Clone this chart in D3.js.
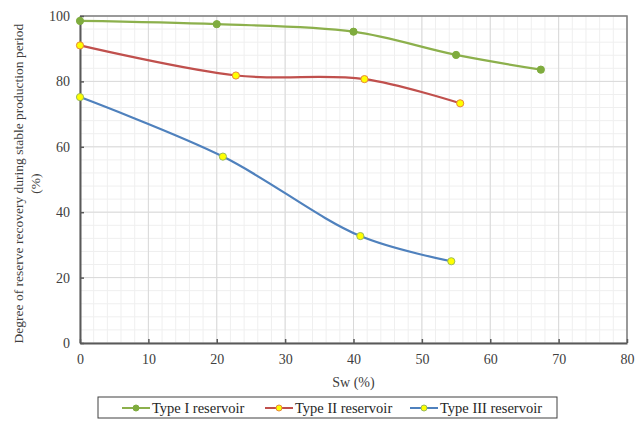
<script src="https://d3js.org/d3.v7.min.js"></script>
<style>
  body { margin: 0; background: #fff; }
  text { font-family: "Liberation Serif", "Times New Roman", serif; }
</style>
<div id="chart"></div>
<script>
  // data
  var seriesNames = ["Type I reservoir", "Type II reservoir", "Type III reservoir"];
  var type1X = [0, 20, 40, 55, 67.4];
  var type1Y = [98.5, 97.5, 95.2, 88.1, 83.6];
  var type2X = [0, 22.8, 41.6, 55.6];
  var type2Y = [91.0, 81.8, 80.7, 73.3];
  var type3X = [0, 20.9, 41.0, 54.3];
  var type3Y = [75.2, 57.0, 32.7, 25.0];
  var xTicks = [0, 10, 20, 30, 40, 50, 60, 70, 80];
  var yTicks = [0, 20, 40, 60, 80, 100];

  var width = 643, height = 421;
  var plotLeft = 80, plotRight = 627, plotTop = 16, plotBottom = 343;

  var svg = d3.select("#chart").append("svg")
    .attr("width", width)
    .attr("height", height);

  var x = d3.scaleLinear().domain([0, 80]).range([plotLeft, plotRight]);
  var y = d3.scaleLinear().domain([0, 100]).range([plotBottom, plotTop]);

  // minor grid
  svg.append("g").selectAll("line")
    .data(d3.range(0, 81, 2))
    .join("line")
    .attr("x1", d => x(d)).attr("x2", d => x(d))
    .attr("y1", plotTop).attr("y2", plotBottom)
    .style("stroke", "#efefef").style("stroke-width", 1);
  svg.append("g").selectAll("line")
    .data(d3.range(0, 101, 4))
    .join("line")
    .attr("x1", plotLeft).attr("x2", plotRight)
    .attr("y1", d => y(d)).attr("y2", d => y(d))
    .style("stroke", "#efefef").style("stroke-width", 1);

  // major grid
  svg.append("g").selectAll("line")
    .data(xTicks)
    .join("line")
    .attr("x1", d => x(d)).attr("x2", d => x(d))
    .attr("y1", plotTop).attr("y2", plotBottom)
    .style("stroke", "#d9d9d9").style("stroke-width", 1);
  svg.append("g").selectAll("line")
    .data(yTicks)
    .join("line")
    .attr("x1", plotLeft).attr("x2", plotRight)
    .attr("y1", d => y(d)).attr("y2", d => y(d))
    .style("stroke", "#d9d9d9").style("stroke-width", 1);

  // plot border (top and right)
  svg.append("path")
    .attr("d", "M" + plotLeft + "," + plotTop + "H" + plotRight + "V" + plotBottom)
    .style("fill", "none").style("stroke", "#7f7f7f").style("stroke-width", 1.5);

  // axes
  var xAxis = d3.axisBottom(x).tickValues(xTicks).tickSizeInner(-4).tickSizeOuter(0).tickPadding(11);
  var yAxis = d3.axisLeft(y).tickValues(yTicks).tickSizeInner(-4).tickSizeOuter(0).tickPadding(10);

  var gx = svg.append("g").attr("transform", "translate(0," + plotBottom + ")").call(xAxis);
  var gy = svg.append("g").attr("transform", "translate(" + plotLeft + ",0)").call(yAxis);
  [gx, gy].forEach(function(g) {
    g.select(".domain").style("stroke", "#595959").style("stroke-width", 2);
    g.selectAll(".tick line").style("stroke", "#595959").style("stroke-width", 1.5);
    g.selectAll(".tick text")
      .style("font-family", "'Liberation Serif', serif")
      .style("font-size", "14px")
      .style("fill", "#404040");
  });

  // axis titles
  svg.append("text")
    .attr("x", x(40)).attr("y", 387)
    .attr("text-anchor", "middle")
    .style("font-size", "14px").style("fill", "#404040")
    .text("Sw (%)");

  var midY = (plotTop + plotBottom) / 2 + 4;
  svg.append("text")
    .attr("transform", "translate(23," + midY + ") rotate(-90)")
    .attr("text-anchor", "middle")
    .style("font-size", "13.5px").style("fill", "#404040")
    .text("Degree of reserve recovery during stable production period");
  svg.append("text")
    .attr("transform", "translate(40," + midY + ") rotate(-90)")
    .attr("text-anchor", "middle")
    .style("font-size", "13.5px").style("fill", "#404040")
    .text("(%)");

  // series
  var series = [
    { name: seriesNames[0], xs: type1X, ys: type1Y, line: "#8cb04c", fill: "#7fac3e", stroke: "#7fac3e" },
    { name: seriesNames[1], xs: type2X, ys: type2Y, line: "#c0504d", fill: "#ffff00", stroke: "#e9873a" },
    { name: seriesNames[2], xs: type3X, ys: type3Y, line: "#4f81bd", fill: "#ffff00", stroke: "#9bbb59" }
  ];

  var line = d3.line()
    .x(d => x(d[0]))
    .y(d => y(d[1]))
    .curve(d3.curveCatmullRom.alpha(0.5));

  series.forEach(function(s) {
    var pts = s.xs.map((v, i) => [v, s.ys[i]]);
    svg.append("path")
      .datum(pts)
      .attr("d", line)
      .style("fill", "none")
      .style("stroke", s.line)
      .style("stroke-width", 2.2);
    svg.append("g").selectAll("circle")
      .data(pts)
      .join("circle")
      .attr("cx", d => x(d[0]))
      .attr("cy", d => y(d[1]))
      .attr("r", 3.6)
      .style("fill", s.fill)
      .style("stroke", s.stroke)
      .style("stroke-width", 1);
  });

  // legend
  var legend = svg.append("g");
  legend.append("rect")
    .attr("x", 98).attr("y", 397)
    .attr("width", 459).attr("height", 21)
    .style("fill", "#fff").style("stroke", "#404040").style("stroke-width", 1);

  var legendX = [122, 265, 410];
  series.forEach(function(s, i) {
    var lx = legendX[i], ly = 408;
    legend.append("line")
      .attr("x1", lx).attr("x2", lx + 28)
      .attr("y1", ly).attr("y2", ly)
      .style("stroke", s.line).style("stroke-width", 2);
    legend.append("circle")
      .attr("cx", lx + 14).attr("cy", ly).attr("r", 3)
      .style("fill", s.fill).style("stroke", s.stroke).style("stroke-width", 1);
    legend.append("text")
      .attr("x", lx + 30).attr("y", ly + 5)
      .style("font-size", "14.5px").style("fill", "#262626")
      .text(s.name);
  });
</script>
